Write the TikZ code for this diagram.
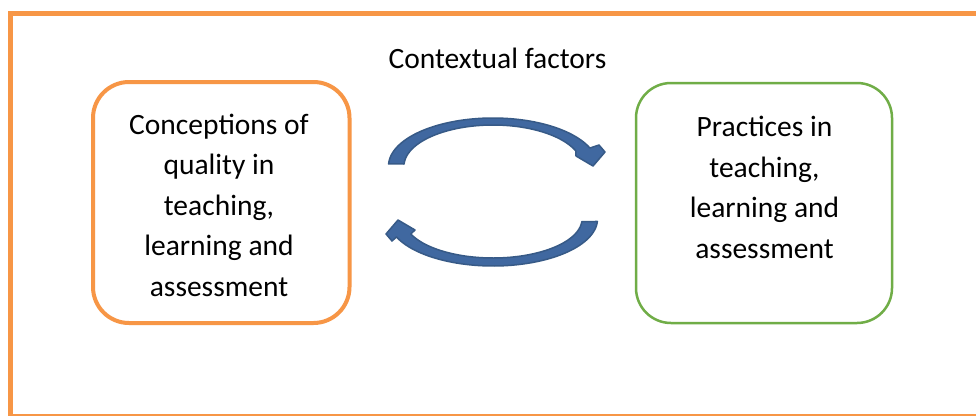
\documentclass[tikz,border=0pt]{standalone}
\usepackage{fontspec}
\setmainfont{Carlito}
\begin{document}
\begin{tikzpicture}[x=1pt,y=-1pt]
\definecolor{frameorange}{HTML}{F79646}
\definecolor{boxgreen}{HTML}{70AD47}
\definecolor{arrowblue}{HTML}{4068A0}
\definecolor{arrowline}{HTML}{375A87}
\tikzset{
  bigtext/.style={font=\fontsize{29.5}{40.5}\selectfont, align=center, inner sep=0pt},
  conceptbox/.style={draw=frameorange, line width=4pt, rounded corners=36pt, inner sep=0pt},
  practicebox/.style={draw=boxgreen, line width=2.5pt, rounded corners=35pt, inner sep=0pt},
  arrowbody/.style={fill=arrowblue, draw=arrowline, line width=1.5pt, line join=round}
}
\clip (0,0) rectangle (976,415);
\useasboundingbox (0,0) rectangle (976,415);
\fill[white] (0,0) rectangle (976,415);
% outer frame
\draw[frameorange, line width=5pt] (10.5,13) rectangle (1000,416);
% title
\node[bigtext, anchor=base] (ctx) at (497.5,68) {Contextual factors};
% boxes
\node[conceptbox, minimum width=256.5pt, minimum height=241pt] (lbox) at (221.25,202.5) {};
\node[practicebox, minimum width=256pt, minimum height=240pt] (rbox) at (764,203) {};
\node[bigtext] (ltext) at (219,205.4) {Conceptions of\\quality in\\teaching,\\learning and\\assessment};
\node[bigtext] (rtext) at (764.5,187.5) {Practices in\\teaching,\\learning and\\assessment};
% upper curved arrow (towards the right box)
\fill[arrowbody]
  plot[domain=182.4:338, variable=\t, samples=60] ({493+104.5*cos(\t)},{166+48*sin(\t)})
  -- (599,145) -- (605,152) -- (593,166) -- (576,156)
  -- plot[domain=338.5:182.8, variable=\t, samples=60] ({493+89*cos(\t)},{166+41*sin(\t)})
  -- cycle;
% lower curved arrow (towards the left box)
\fill[arrowbody]
  plot[domain=3:157.5, variable=\t, samples=60] ({493+104.5*cos(\t)},{219+47*sin(\t)})
  -- (392,241) -- (386,234) -- (398,220) -- (415,230)
  -- plot[domain=157.4:4, variable=\t, samples=60] ({493+89*cos(\t)},{219+39*sin(\t)})
  -- cycle;
\end{tikzpicture}
\end{document}
